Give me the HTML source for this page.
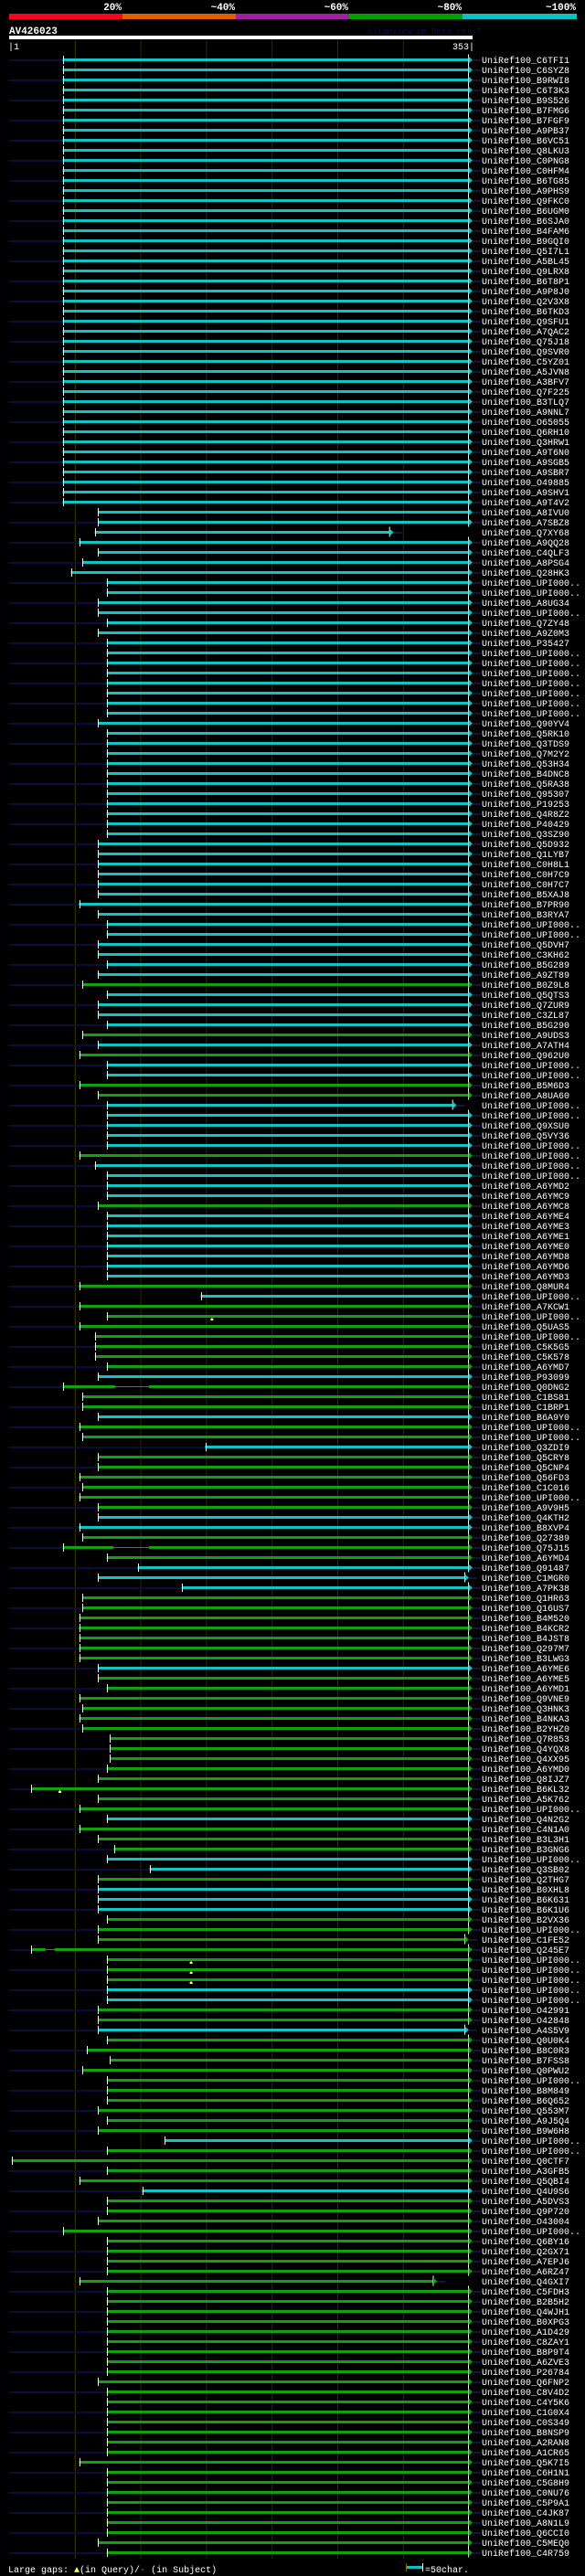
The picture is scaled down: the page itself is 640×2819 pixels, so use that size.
<!DOCTYPE html>
<html><head><meta charset="utf-8">
<style>
html,body{margin:0;padding:0;background:#000;}
svg{display:block;}
text{font-family:"Liberation Mono","DejaVu Sans Mono",monospace;}
</style></head>
<body>
<svg id="s" width="640" height="2819" viewBox="0 0 640 2819" xmlns="http://www.w3.org/2000/svg">
<rect x="0" y="0" width="640" height="2819" fill="#000"/>
<g font-size="11" font-weight="bold" fill="#fff" text-anchor="end">
<text x="133" y="11">20%</text>
<text x="257" y="11">~40%</text>
<text x="381" y="11">~60%</text>
<text x="505" y="11">~80%</text>
<text x="630" y="11">~100%</text>
</g>
<rect x="10" y="15" width="124" height="6" fill="#ff0020"/>
<rect x="134" y="15" width="124" height="6" fill="#e06000"/>
<rect x="258" y="15" width="124" height="6" fill="#a020a0"/>
<rect x="382" y="15" width="124" height="6" fill="#00a000"/>
<rect x="506" y="15" width="125" height="6" fill="#10c0c0"/>
<text x="10" y="37" font-size="11" font-weight="bold" fill="#fff">AV426023</text>
<text x="402" y="37" font-size="9" fill="#101048">AlignView.pm Beta rel.7</text>
<rect x="10" y="39" width="507" height="4" fill="#fff"/>
<text x="9" y="54" font-size="10" fill="#fff">|1</text>
<text x="519" y="54" font-size="10" fill="#fff" text-anchor="end">353|</text>
<g id="g"></g>
<text font-size="10" fill="#fff" x="527" y="58">
<tspan x="527" dy="11">UniRef100_C6TFI1</tspan>
<tspan x="527" dy="11">UniRef100_C6SYZ8</tspan>
<tspan x="527" dy="11">UniRef100_B9RWI8</tspan>
<tspan x="527" dy="11">UniRef100_C6T3K3</tspan>
<tspan x="527" dy="11">UniRef100_B9S526</tspan>
<tspan x="527" dy="11">UniRef100_B7FMG6</tspan>
<tspan x="527" dy="11">UniRef100_B7FGF9</tspan>
<tspan x="527" dy="11">UniRef100_A9PB37</tspan>
<tspan x="527" dy="11">UniRef100_B6VC51</tspan>
<tspan x="527" dy="11">UniRef100_Q8LKU3</tspan>
<tspan x="527" dy="11">UniRef100_C0PNG8</tspan>
<tspan x="527" dy="11">UniRef100_C0HFM4</tspan>
<tspan x="527" dy="11">UniRef100_B6TG85</tspan>
<tspan x="527" dy="11">UniRef100_A9PHS9</tspan>
<tspan x="527" dy="11">UniRef100_Q9FKC0</tspan>
<tspan x="527" dy="11">UniRef100_B6UGM0</tspan>
<tspan x="527" dy="11">UniRef100_B6SJA0</tspan>
<tspan x="527" dy="11">UniRef100_B4FAM6</tspan>
<tspan x="527" dy="11">UniRef100_B9GQI0</tspan>
<tspan x="527" dy="11">UniRef100_Q5I7L1</tspan>
<tspan x="527" dy="11">UniRef100_A5BL45</tspan>
<tspan x="527" dy="11">UniRef100_Q9LRX8</tspan>
<tspan x="527" dy="11">UniRef100_B6T8P1</tspan>
<tspan x="527" dy="11">UniRef100_A9P8J0</tspan>
<tspan x="527" dy="11">UniRef100_Q2V3X8</tspan>
<tspan x="527" dy="11">UniRef100_B6TKD3</tspan>
<tspan x="527" dy="11">UniRef100_Q9SFU1</tspan>
<tspan x="527" dy="11">UniRef100_A7QAC2</tspan>
<tspan x="527" dy="11">UniRef100_Q75J18</tspan>
<tspan x="527" dy="11">UniRef100_Q9SVR0</tspan>
<tspan x="527" dy="11">UniRef100_C5YZ01</tspan>
<tspan x="527" dy="11">UniRef100_A5JVN8</tspan>
<tspan x="527" dy="11">UniRef100_A3BFV7</tspan>
<tspan x="527" dy="11">UniRef100_Q7F225</tspan>
<tspan x="527" dy="11">UniRef100_B3TLQ7</tspan>
<tspan x="527" dy="11">UniRef100_A9NNL7</tspan>
<tspan x="527" dy="11">UniRef100_O65055</tspan>
<tspan x="527" dy="11">UniRef100_Q6RH10</tspan>
<tspan x="527" dy="11">UniRef100_Q3HRW1</tspan>
<tspan x="527" dy="11">UniRef100_A9T6N0</tspan>
<tspan x="527" dy="11">UniRef100_A9SGB5</tspan>
<tspan x="527" dy="11">UniRef100_A9SBR7</tspan>
<tspan x="527" dy="11">UniRef100_O49885</tspan>
<tspan x="527" dy="11">UniRef100_A9SHV1</tspan>
<tspan x="527" dy="11">UniRef100_A9T4V2</tspan>
<tspan x="527" dy="11">UniRef100_A8IVU0</tspan>
<tspan x="527" dy="11">UniRef100_A7SBZ8</tspan>
<tspan x="527" dy="11">UniRef100_Q7XY68</tspan>
<tspan x="527" dy="11">UniRef100_A9QQ28</tspan>
<tspan x="527" dy="11">UniRef100_C4QLF3</tspan>
<tspan x="527" dy="11">UniRef100_A8PSG4</tspan>
<tspan x="527" dy="11">UniRef100_Q28HK3</tspan>
<tspan x="527" dy="11">UniRef100_UPI000..</tspan>
<tspan x="527" dy="11">UniRef100_UPI000..</tspan>
<tspan x="527" dy="11">UniRef100_A8UG34</tspan>
<tspan x="527" dy="11">UniRef100_UPI000..</tspan>
<tspan x="527" dy="11">UniRef100_Q7ZY48</tspan>
<tspan x="527" dy="11">UniRef100_A9Z0M3</tspan>
<tspan x="527" dy="11">UniRef100_P35427</tspan>
<tspan x="527" dy="11">UniRef100_UPI000..</tspan>
<tspan x="527" dy="11">UniRef100_UPI000..</tspan>
<tspan x="527" dy="11">UniRef100_UPI000..</tspan>
<tspan x="527" dy="11">UniRef100_UPI000..</tspan>
<tspan x="527" dy="11">UniRef100_UPI000..</tspan>
<tspan x="527" dy="11">UniRef100_UPI000..</tspan>
<tspan x="527" dy="11">UniRef100_UPI000..</tspan>
<tspan x="527" dy="11">UniRef100_Q90YV4</tspan>
<tspan x="527" dy="11">UniRef100_Q5RK10</tspan>
<tspan x="527" dy="11">UniRef100_Q3TDS9</tspan>
<tspan x="527" dy="11">UniRef100_Q7M2Y2</tspan>
<tspan x="527" dy="11">UniRef100_Q53H34</tspan>
<tspan x="527" dy="11">UniRef100_B4DNC8</tspan>
<tspan x="527" dy="11">UniRef100_Q5RA38</tspan>
<tspan x="527" dy="11">UniRef100_Q95307</tspan>
<tspan x="527" dy="11">UniRef100_P19253</tspan>
<tspan x="527" dy="11">UniRef100_Q4R8Z2</tspan>
<tspan x="527" dy="11">UniRef100_P40429</tspan>
<tspan x="527" dy="11">UniRef100_Q3SZ90</tspan>
<tspan x="527" dy="11">UniRef100_Q5D932</tspan>
<tspan x="527" dy="11">UniRef100_Q1LYB7</tspan>
<tspan x="527" dy="11">UniRef100_C0H8L1</tspan>
<tspan x="527" dy="11">UniRef100_C0H7C9</tspan>
<tspan x="527" dy="11">UniRef100_C0H7C7</tspan>
<tspan x="527" dy="11">UniRef100_B5XAJ8</tspan>
<tspan x="527" dy="11">UniRef100_B7PR90</tspan>
<tspan x="527" dy="11">UniRef100_B3RYA7</tspan>
<tspan x="527" dy="11">UniRef100_UPI000..</tspan>
<tspan x="527" dy="11">UniRef100_UPI000..</tspan>
<tspan x="527" dy="11">UniRef100_Q5DVH7</tspan>
<tspan x="527" dy="11">UniRef100_C3KH62</tspan>
<tspan x="527" dy="11">UniRef100_B5G289</tspan>
<tspan x="527" dy="11">UniRef100_A9ZT89</tspan>
<tspan x="527" dy="11">UniRef100_B0Z9L8</tspan>
<tspan x="527" dy="11">UniRef100_Q5QTS3</tspan>
<tspan x="527" dy="11">UniRef100_Q7ZUR9</tspan>
<tspan x="527" dy="11">UniRef100_C3ZL87</tspan>
<tspan x="527" dy="11">UniRef100_B5G290</tspan>
<tspan x="527" dy="11">UniRef100_A9UDS3</tspan>
<tspan x="527" dy="11">UniRef100_A7ATH4</tspan>
<tspan x="527" dy="11">UniRef100_Q962U0</tspan>
<tspan x="527" dy="11">UniRef100_UPI000..</tspan>
<tspan x="527" dy="11">UniRef100_UPI000..</tspan>
<tspan x="527" dy="11">UniRef100_B5M6D3</tspan>
<tspan x="527" dy="11">UniRef100_A8UA60</tspan>
<tspan x="527" dy="11">UniRef100_UPI000..</tspan>
<tspan x="527" dy="11">UniRef100_UPI000..</tspan>
<tspan x="527" dy="11">UniRef100_Q9XSU0</tspan>
<tspan x="527" dy="11">UniRef100_Q5VY36</tspan>
<tspan x="527" dy="11">UniRef100_UPI000..</tspan>
<tspan x="527" dy="11">UniRef100_UPI000..</tspan>
<tspan x="527" dy="11">UniRef100_UPI000..</tspan>
<tspan x="527" dy="11">UniRef100_UPI000..</tspan>
<tspan x="527" dy="11">UniRef100_A6YMD2</tspan>
<tspan x="527" dy="11">UniRef100_A6YMC9</tspan>
<tspan x="527" dy="11">UniRef100_A6YMC8</tspan>
<tspan x="527" dy="11">UniRef100_A6YME4</tspan>
<tspan x="527" dy="11">UniRef100_A6YME3</tspan>
<tspan x="527" dy="11">UniRef100_A6YME1</tspan>
<tspan x="527" dy="11">UniRef100_A6YME0</tspan>
<tspan x="527" dy="11">UniRef100_A6YMD8</tspan>
<tspan x="527" dy="11">UniRef100_A6YMD6</tspan>
<tspan x="527" dy="11">UniRef100_A6YMD3</tspan>
<tspan x="527" dy="11">UniRef100_Q8MUR4</tspan>
<tspan x="527" dy="11">UniRef100_UPI000..</tspan>
<tspan x="527" dy="11">UniRef100_A7KCW1</tspan>
<tspan x="527" dy="11">UniRef100_UPI000..</tspan>
<tspan x="527" dy="11">UniRef100_Q5UAS5</tspan>
<tspan x="527" dy="11">UniRef100_UPI000..</tspan>
<tspan x="527" dy="11">UniRef100_C5K5G5</tspan>
<tspan x="527" dy="11">UniRef100_C5K578</tspan>
<tspan x="527" dy="11">UniRef100_A6YMD7</tspan>
<tspan x="527" dy="11">UniRef100_P93099</tspan>
<tspan x="527" dy="11">UniRef100_Q0DNG2</tspan>
<tspan x="527" dy="11">UniRef100_C1BS81</tspan>
<tspan x="527" dy="11">UniRef100_C1BRP1</tspan>
<tspan x="527" dy="11">UniRef100_B6A9Y0</tspan>
<tspan x="527" dy="11">UniRef100_UPI000..</tspan>
<tspan x="527" dy="11">UniRef100_UPI000..</tspan>
<tspan x="527" dy="11">UniRef100_Q3ZDI9</tspan>
<tspan x="527" dy="11">UniRef100_Q5CRY8</tspan>
<tspan x="527" dy="11">UniRef100_Q5CNP4</tspan>
<tspan x="527" dy="11">UniRef100_Q56FD3</tspan>
<tspan x="527" dy="11">UniRef100_C1C016</tspan>
<tspan x="527" dy="11">UniRef100_UPI000..</tspan>
<tspan x="527" dy="11">UniRef100_A9V9H5</tspan>
<tspan x="527" dy="11">UniRef100_Q4KTH2</tspan>
<tspan x="527" dy="11">UniRef100_B8XVP4</tspan>
<tspan x="527" dy="11">UniRef100_Q27389</tspan>
<tspan x="527" dy="11">UniRef100_Q75J15</tspan>
<tspan x="527" dy="11">UniRef100_A6YMD4</tspan>
<tspan x="527" dy="11">UniRef100_Q91487</tspan>
<tspan x="527" dy="11">UniRef100_C1MGR0</tspan>
<tspan x="527" dy="11">UniRef100_A7PK38</tspan>
<tspan x="527" dy="11">UniRef100_Q1HR63</tspan>
<tspan x="527" dy="11">UniRef100_Q16US7</tspan>
<tspan x="527" dy="11">UniRef100_B4M520</tspan>
<tspan x="527" dy="11">UniRef100_B4KCR2</tspan>
<tspan x="527" dy="11">UniRef100_B4JST8</tspan>
<tspan x="527" dy="11">UniRef100_Q297M7</tspan>
<tspan x="527" dy="11">UniRef100_B3LWG3</tspan>
<tspan x="527" dy="11">UniRef100_A6YME6</tspan>
<tspan x="527" dy="11">UniRef100_A6YME5</tspan>
<tspan x="527" dy="11">UniRef100_A6YMD1</tspan>
<tspan x="527" dy="11">UniRef100_Q9VNE9</tspan>
<tspan x="527" dy="11">UniRef100_Q3HNK3</tspan>
<tspan x="527" dy="11">UniRef100_B4NKA3</tspan>
<tspan x="527" dy="11">UniRef100_B2YHZ0</tspan>
<tspan x="527" dy="11">UniRef100_Q7R853</tspan>
<tspan x="527" dy="11">UniRef100_Q4YQX8</tspan>
<tspan x="527" dy="11">UniRef100_Q4XX95</tspan>
<tspan x="527" dy="11">UniRef100_A6YMD0</tspan>
<tspan x="527" dy="11">UniRef100_Q8IJZ7</tspan>
<tspan x="527" dy="11">UniRef100_B6KL32</tspan>
<tspan x="527" dy="11">UniRef100_A5K762</tspan>
<tspan x="527" dy="11">UniRef100_UPI000..</tspan>
<tspan x="527" dy="11">UniRef100_Q4N2G2</tspan>
<tspan x="527" dy="11">UniRef100_C4N1A0</tspan>
<tspan x="527" dy="11">UniRef100_B3L3H1</tspan>
<tspan x="527" dy="11">UniRef100_B3GNG6</tspan>
<tspan x="527" dy="11">UniRef100_UPI000..</tspan>
<tspan x="527" dy="11">UniRef100_Q3SB02</tspan>
<tspan x="527" dy="11">UniRef100_Q2THG7</tspan>
<tspan x="527" dy="11">UniRef100_B0XHL8</tspan>
<tspan x="527" dy="11">UniRef100_B6K631</tspan>
<tspan x="527" dy="11">UniRef100_B6K1U6</tspan>
<tspan x="527" dy="11">UniRef100_B2VX36</tspan>
<tspan x="527" dy="11">UniRef100_UPI000..</tspan>
<tspan x="527" dy="11">UniRef100_C1FE52</tspan>
<tspan x="527" dy="11">UniRef100_Q245E7</tspan>
<tspan x="527" dy="11">UniRef100_UPI000..</tspan>
<tspan x="527" dy="11">UniRef100_UPI000..</tspan>
<tspan x="527" dy="11">UniRef100_UPI000..</tspan>
<tspan x="527" dy="11">UniRef100_UPI000..</tspan>
<tspan x="527" dy="11">UniRef100_UPI000..</tspan>
<tspan x="527" dy="11">UniRef100_O42991</tspan>
<tspan x="527" dy="11">UniRef100_O42848</tspan>
<tspan x="527" dy="11">UniRef100_A4S5V9</tspan>
<tspan x="527" dy="11">UniRef100_Q0U0K4</tspan>
<tspan x="527" dy="11">UniRef100_B8C0R3</tspan>
<tspan x="527" dy="11">UniRef100_B7FSS8</tspan>
<tspan x="527" dy="11">UniRef100_Q0PWU2</tspan>
<tspan x="527" dy="11">UniRef100_UPI000..</tspan>
<tspan x="527" dy="11">UniRef100_B8M849</tspan>
<tspan x="527" dy="11">UniRef100_B6Q652</tspan>
<tspan x="527" dy="11">UniRef100_Q553M7</tspan>
<tspan x="527" dy="11">UniRef100_A9J5Q4</tspan>
<tspan x="527" dy="11">UniRef100_B9W6H8</tspan>
<tspan x="527" dy="11">UniRef100_UPI000..</tspan>
<tspan x="527" dy="11">UniRef100_UPI000..</tspan>
<tspan x="527" dy="11">UniRef100_Q0CTF7</tspan>
<tspan x="527" dy="11">UniRef100_A3GFB5</tspan>
<tspan x="527" dy="11">UniRef100_Q5QBI4</tspan>
<tspan x="527" dy="11">UniRef100_Q4U9S6</tspan>
<tspan x="527" dy="11">UniRef100_A5DVS3</tspan>
<tspan x="527" dy="11">UniRef100_Q9P720</tspan>
<tspan x="527" dy="11">UniRef100_O43004</tspan>
<tspan x="527" dy="11">UniRef100_UPI000..</tspan>
<tspan x="527" dy="11">UniRef100_Q6BY16</tspan>
<tspan x="527" dy="11">UniRef100_Q2GX71</tspan>
<tspan x="527" dy="11">UniRef100_A7EPJ6</tspan>
<tspan x="527" dy="11">UniRef100_A6RZ47</tspan>
<tspan x="527" dy="11">UniRef100_Q4GXI7</tspan>
<tspan x="527" dy="11">UniRef100_C5FDH3</tspan>
<tspan x="527" dy="11">UniRef100_B2B5H2</tspan>
<tspan x="527" dy="11">UniRef100_Q4WJH1</tspan>
<tspan x="527" dy="11">UniRef100_B0XPG3</tspan>
<tspan x="527" dy="11">UniRef100_A1D429</tspan>
<tspan x="527" dy="11">UniRef100_C8ZAY1</tspan>
<tspan x="527" dy="11">UniRef100_B8P9T4</tspan>
<tspan x="527" dy="11">UniRef100_A6ZVE3</tspan>
<tspan x="527" dy="11">UniRef100_P26784</tspan>
<tspan x="527" dy="11">UniRef100_Q6FNP2</tspan>
<tspan x="527" dy="11">UniRef100_C8V4D2</tspan>
<tspan x="527" dy="11">UniRef100_C4Y5K6</tspan>
<tspan x="527" dy="11">UniRef100_C1G0X4</tspan>
<tspan x="527" dy="11">UniRef100_C0S349</tspan>
<tspan x="527" dy="11">UniRef100_B8NSP9</tspan>
<tspan x="527" dy="11">UniRef100_A2RAN8</tspan>
<tspan x="527" dy="11">UniRef100_A1CR65</tspan>
<tspan x="527" dy="11">UniRef100_Q5K7I5</tspan>
<tspan x="527" dy="11">UniRef100_C6H1N1</tspan>
<tspan x="527" dy="11">UniRef100_C5G8H9</tspan>
<tspan x="527" dy="11">UniRef100_C0NU76</tspan>
<tspan x="527" dy="11">UniRef100_C5P9A1</tspan>
<tspan x="527" dy="11">UniRef100_C4JK87</tspan>
<tspan x="527" dy="11">UniRef100_A8N1L9</tspan>
<tspan x="527" dy="11">UniRef100_Q6CCI0</tspan>
<tspan x="527" dy="11">UniRef100_C5MEQ0</tspan>
<tspan x="527" dy="11">UniRef100_C4R759</tspan>
</text>
<text x="9" y="2815" font-size="10" fill="#fff">Large gaps: <tspan fill="#ffff60">▲</tspan>(in Query)/<tspan fill="#10c0c0">-</tspan> (in Subject)</text>
<rect x="445" y="2808" width="17" height="3" fill="#10c0c0"/>
<rect x="444" y="2805" width="1" height="9" fill="#886600"/>
<rect x="462" y="2805" width="1" height="9" fill="#fff"/>
<text x="465" y="2815" font-size="10" fill="#fff">=50char.</text>
</svg>
<script>
(function(){
var A=68.6,B=86.5,C=90,D=103.7,E=107.3,F=116.7,G=77.5;
var R=[];
function p(n,s,c){for(var i=0;i<n;i++)R.push([s,c]);}
p(45,A,'c');
R.push([E,'c'],[E,'c'],[D,'c',425.7],[B,'c'],[E,'c'],[C,'c'],[G,'c'],[F,'c'],[F,'c'],[E,'c'],[E,'c'],[F,'c'],[E,'c'],[F,'c'],[F,'c']);
p(6,F,'c');R.push([E,'c']);p(11,F,'c');p(6,E,'c');R.push([B,'c'],[E,'c'],[F,'c'],[F,'c'],[E,'c'],[E,'c']);
R.push([F,'c'],[E,'c'],[C,'g'],[F,'c'],[E,'c'],[E,'c'],[F,'c'],[C,'g'],[E,'c'],[B,'g'],[F,'c'],[F,'c'],[B,'g'],[E,'g'],[F,'c',494.7],[F,'c'],[F,'c'],[F,'c'],[F,'c'],[B,'g'],[D,'c'],[F,'c'],[F,'c'],[F,'c'],[E,'g']);
p(5,F,'c');
R.push([F,'c'],[F,'c'],[B,'g'],[219.6,'c'],[B,'g'],[F,'g',0,0,231.4],[B,'g'],[D,'g'],[D,'g'],[D,'g'],[F,'g'],[E,'c'],[A,'g',0,[126,163]],[C,'g'],[C,'g'],[E,'c'],[B,'g'],[C,'g'],[224.5,'c'],[E,'g'],[E,'g'],[B,'g'],[C,'g'],[B,'g'],[E,'g'],[E,'c'],[B,'c'],[C,'g'],[A,'g',0,[124,163]],[F,'g']);
R.push([150.6,'c'],[E,'c',508],[198.8,'c'],[C,'g'],[C,'g']);p(5,B,'g');
R.push([E,'c'],[E,'g'],[F,'g'],[B,'g'],[C,'g'],[B,'g'],[C,'g'],[120.4,'g'],[120.4,'g'],[120.4,'g'],[F,'g'],[E,'g'],[34.3,'g',0,0,65],[E,'g'],[B,'g'],[F,'c'],[B,'g'],[E,'g'],[124.5,'g'],[F,'c']);
R.push([163.7,'c'],[E,'g'],[E,'c'],[E,'c'],[E,'c'],[F,'g'],[E,'g'],[E,'g',508],[34.3,'g',0,[49.8,59.6]],[F,'g',0,0,208.6],[F,'g',0,0,208.6],[F,'g',0,0,208.6],[F,'c'],[F,'c'],[E,'g'],[E,'g'],[E,'c',508],[F,'g'],[94.7,'g'],[120.4,'g'],[C,'g'],[F,'g'],[F,'g'],[F,'g'],[E,'g'],[F,'g'],[E,'g'],[180.4,'c'],[F,'g'],[12.7,'g']);
R.push([F,'g'],[B,'g'],[155.5,'c'],[F,'g'],[F,'g'],[E,'g'],[A,'g']);p(4,F,'g');R.push([B,'g',473.5]);p(9,F,'g');R.push([E,'g']);p(7,F,'g');R.push([B,'g']);
p(7,F,'g');R.push([E,'g'],[F,'g']);
var NS='http://www.w3.org/2000/svg',g=document.getElementById('g'),h='';
function r(x,y,w,hh,c){return '<rect x="'+x+'" y="'+y+'" width="'+w+'" height="'+hh+'" fill="'+c+'"/>';}
var gx=[81.8,153.6,225.4,297.2,369,440.8];
for(var k=0;k<gx.length;k++)h+=r(gx[k],44,1,2756,k==0?'#3a3a08':'#2a2a08');
for(var i=0;i<R.length;i++){
 var d=R[i],s=d[0],col=d[1]=='c'?'#10c4c4':'#10a010',e=d[2]||512,cy=65+11*i;
 if(i%2==0){h+=r(10,cy,Math.max(0,s-10),2,'#0c0c38');}
 h+=r(e+5,cy,9,2,'#14143c');
 if(d[3]){h+=r(s,cy-1,d[3][0]-s,3,col)+r(d[3][0],cy,d[3][1]-d[3][0],1,col)+r(d[3][1],cy-1,e-d[3][1],3,col);}
 else h+=r(s,cy-1,e-s,3,col);
 h+=r(Math.round(s),cy-4,1,9,'#fff');
 h+=r(e,cy-5.5,1,11,'#fff');
 h+='<polygon points="'+(e+0.5)+','+(cy-3.5)+' '+(e+5)+','+(cy+0.5)+' '+(e+0.5)+','+(cy+4.5)+'" fill="'+col+'"/>';
 if(d[4]){h+=r(d[4],cy+2,1,2,'#ffff60')+r(d[4]-1,cy+3,3,2,'#ffff60');}
}
g.innerHTML=h;
})();
</script>
</body></html>
